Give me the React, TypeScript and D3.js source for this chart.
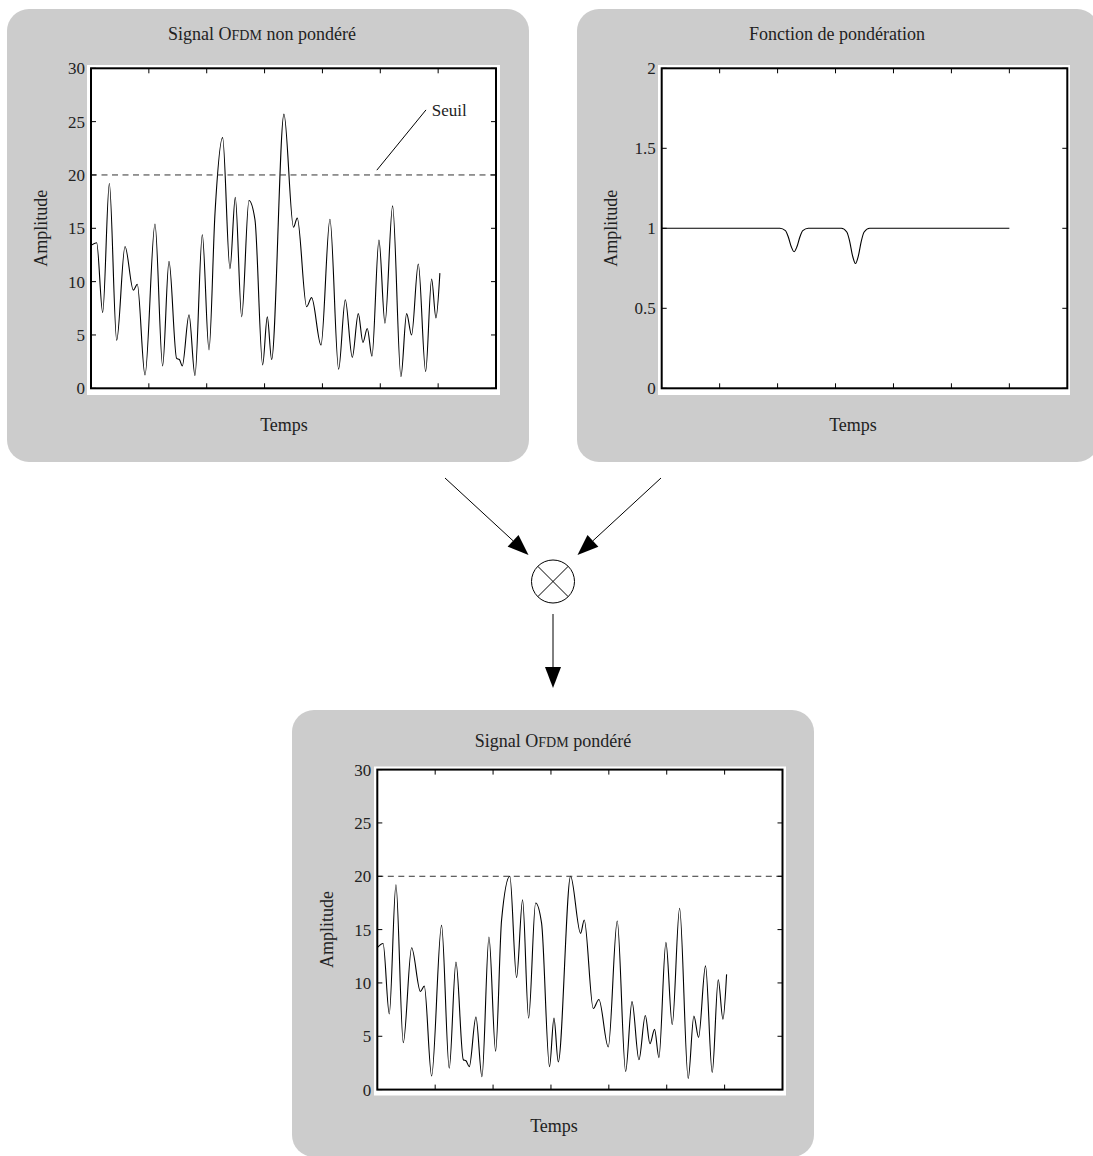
import React from 'react';
import * as d3 from 'd3';

// ---------- data ----------
const timeTicks = [1, 2, 3, 4, 5, 6];
const amplitudeTicks = [0, 5, 10, 15, 20, 25, 30];
const weightTicks = [0, 0.5, 1, 1.5, 2];
const threshold = 20;

// unweighted OFDM signal (time, amplitude)
const signalPoints: [number, number][] = [
  [0.0, 13.4], [0.098, 13.65], [0.202, 7.1], [0.317, 19.2], [0.444, 4.5],
  [0.588, 13.3], [0.732, 9.2], [0.8, 9.75], [0.933, 1.25], [1.106, 15.4],
  [1.238, 2.1], [1.348, 11.9], [1.48, 2.8], [1.527, 2.7], [1.578, 2.1],
  [1.694, 6.9], [1.797, 1.2], [1.924, 14.4], [2.039, 3.6], [2.143, 16.4],
  [2.275, 23.5], [2.402, 11.2], [2.494, 17.9], [2.604, 6.7], [2.73, 17.6],
  [2.834, 15.8], [2.967, 2.2], [3.047, 6.7], [3.122, 2.7], [3.335, 25.7],
  [3.5, 15.1], [3.565, 15.95], [3.727, 7.65], [3.813, 8.5], [3.975, 4.06],
  [4.13, 15.85], [4.28, 1.8], [4.395, 8.3], [4.516, 2.9], [4.62, 7.0],
  [4.7, 4.3], [4.775, 5.6], [4.856, 3.0], [4.977, 13.9], [5.081, 6.1],
  [5.213, 17.1], [5.357, 1.1], [5.455, 7.0], [5.541, 5.0], [5.657, 11.65],
  [5.784, 1.56], [5.887, 10.25], [5.962, 6.6], [6.03, 10.8],
];

// weighting function (time, weight)
const weightPoints: [number, number][] = [
  [0, 1], [2.04, 1], [2.135, 0.985], [2.185, 0.946], [2.235, 0.886],
  [2.285, 0.854], [2.335, 0.886], [2.385, 0.946], [2.435, 0.985], [2.53, 1],
  [3.1, 1], [3.194, 0.977], [3.244, 0.919], [3.294, 0.828], [3.344, 0.78],
  [3.394, 0.828], [3.444, 0.919], [3.494, 0.977], [3.59, 1], [6, 1],
];

// weighted OFDM signal (time, amplitude)
const weightedPoints: [number, number][] = [
  [0.0, 13.3], [0.1, 13.7], [0.207, 7.1], [0.322, 19.2], [0.449, 4.4],
  [0.593, 13.3], [0.745, 9.2], [0.812, 9.7], [0.938, 1.27], [1.11, 15.4],
  [1.243, 2.0], [1.359, 11.95], [1.486, 2.8], [1.532, 2.7], [1.589, 2.15],
  [1.704, 6.8], [1.808, 1.2], [1.929, 14.3], [2.044, 3.6], [2.147, 15.9],
  [2.29, 20.0], [2.406, 10.5], [2.51, 17.8], [2.614, 6.7], [2.735, 17.5],
  [2.838, 15.6], [2.975, 2.15], [3.052, 6.7], [3.126, 2.6], [3.339, 20.0],
  [3.512, 14.65], [3.575, 15.9], [3.731, 7.6], [3.828, 8.45], [3.99, 4.0],
  [4.145, 15.8], [4.29, 1.7], [4.4, 8.25], [4.52, 2.8], [4.63, 6.95],
  [4.71, 4.3], [4.79, 5.65], [4.865, 3.0], [4.986, 13.8], [5.095, 6.1],
  [5.222, 17.0], [5.371, 1.05], [5.469, 6.9], [5.55, 4.9], [5.67, 11.6],
  [5.786, 1.6], [5.89, 10.3], [5.971, 6.6], [6.034, 10.8],
];

const FONT = '"Liberation Serif", "Times New Roman", serif';
const PANEL_FILL = '#cccccc';

type Rect = { x: number; y: number; w: number; h: number };
type Frame = { x0: number; x1: number; y0: number; y1: number };

type PanelProps = {
  box: Rect;
  white: Rect;
  frame: Frame;
  titleParts: { t: string; sc?: boolean }[];
  titleX: number;
  titleY: number;
  yDomain: [number, number];
  yTicks: number[];
  data: [number, number][];
  showThreshold?: boolean;
  seuil?: boolean;
  ylabelX: number;
  xlabelX: number;
  xlabelY: number;
};

function Panel(p: PanelProps) {
  const { frame } = p;
  const x = d3.scaleLinear().domain([0, 7]).range([frame.x0, frame.x1]);
  const y = d3.scaleLinear().domain(p.yDomain).range([frame.y1, frame.y0]);
  const line = d3
    .line<[number, number]>()
    .x((d) => x(d[0]))
    .y((d) => y(d[1]))
    .curve(d3.curveMonotoneX);
  const tl = 5;
  const midY = (frame.y0 + frame.y1) / 2;
  return (
    <g>
      <rect x={p.box.x} y={p.box.y} width={p.box.w} height={p.box.h} rx={22} ry={22} fill={PANEL_FILL} />
      <rect x={p.white.x} y={p.white.y} width={p.white.w} height={p.white.h} fill="#ffffff" />
      <text x={p.titleX} y={p.titleY} textAnchor="middle" fontFamily={FONT} fontSize={18} fill="#222">
        {p.titleParts.map((s, i) => (
          <tspan key={i} fontSize={s.sc ? 14 : 18}>{s.t}</tspan>
        ))}
      </text>
      {/* data line */}
      <path d={line(p.data) || ''} fill="none" stroke="#000" strokeWidth={1.1} />
      {p.showThreshold && (
        <line x1={frame.x0} x2={frame.x1} y1={y(threshold)} y2={y(threshold)} stroke="#333" strokeWidth={1} strokeDasharray="6,4.5" />
      )}
      {p.seuil && (
        <g>
          <line x1={x(4.94)} y1={y(20.45)} x2={x(5.79)} y2={y(26.1)} stroke="#000" strokeWidth={1} />
          <text x={x(5.89)} y={y(25.55)} fontFamily={FONT} fontSize={17} fill="#222">Seuil</text>
        </g>
      )}
      {/* ticks */}
      {timeTicks.map((t) => (
        <g key={'xt' + t}>
          <line x1={x(t)} x2={x(t)} y1={frame.y1} y2={frame.y1 - tl} stroke="#000" strokeWidth={1} />
          <line x1={x(t)} x2={x(t)} y1={frame.y0} y2={frame.y0 + tl} stroke="#000" strokeWidth={1} />
        </g>
      ))}
      {p.yTicks.map((v) => (
        <g key={'yt' + v}>
          <line x1={frame.x0} x2={frame.x0 + tl} y1={y(v)} y2={y(v)} stroke="#000" strokeWidth={1} />
          <line x1={frame.x1} x2={frame.x1 - tl} y1={y(v)} y2={y(v)} stroke="#000" strokeWidth={1} />
          <text x={frame.x0 - 6} y={y(v)} dy="0.36em" textAnchor="end" fontFamily={FONT} fontSize={17} fill="#222">
            {String(v)}
          </text>
        </g>
      ))}
      {/* frame */}
      <rect x={frame.x0} y={frame.y0} width={frame.x1 - frame.x0} height={frame.y1 - frame.y0} fill="none" stroke="#000" strokeWidth={2} />
      {/* axis labels */}
      <text
        x={p.ylabelX}
        y={midY}
        transform={`rotate(-90, ${p.ylabelX}, ${midY})`}
        textAnchor="middle"
        fontFamily={FONT}
        fontSize={18}
        fill="#222"
      >
        Amplitude
      </text>
      <text x={p.xlabelX} y={p.xlabelY} textAnchor="middle" fontFamily={FONT} fontSize={18} fill="#222">
        Temps
      </text>
    </g>
  );
}

function Arrow({ x1, y1, x2, y2 }: { x1: number; y1: number; x2: number; y2: number }) {
  const dx = x2 - x1;
  const dy = y2 - y1;
  const len = Math.hypot(dx, dy);
  const ux = dx / len;
  const uy = dy / len;
  const hl = 21;
  const hw = 8;
  const bx = x2 - ux * hl;
  const by = y2 - uy * hl;
  const pts = [
    [x2, y2],
    [bx - uy * hw, by + ux * hw],
    [bx + uy * hw, by - ux * hw],
  ]
    .map((q) => q.join(','))
    .join(' ');
  return (
    <g>
      <line x1={x1} y1={y1} x2={bx} y2={by} stroke="#000" strokeWidth={1} />
      <polygon points={pts} fill="#000" />
    </g>
  );
}

export default function App() {
  const cx = 553;
  const cy = 581.5;
  const r = 21.5;
  const k = r * Math.SQRT1_2;
  return (
    <svg width={1093} height={1156} style={{ position: 'absolute', left: 0, top: 0, background: '#fff' }}>
      <Panel
        box={{ x: 7, y: 9, w: 522, h: 453 }}
        white={{ x: 87, y: 65, w: 413, h: 330 }}
        frame={{ x0: 91, x1: 496, y0: 68.3, y1: 388.3 }}
        titleParts={[{ t: 'Signal O' }, { t: 'FDM', sc: true }, { t: ' non pondéré' }]}
        titleX={262}
        titleY={40}
        yDomain={[0, 30]}
        yTicks={amplitudeTicks}
        data={signalPoints}
        showThreshold
        seuil
        ylabelX={47}
        xlabelX={284}
        xlabelY={431}
      />
      <Panel
        box={{ x: 577, y: 9, w: 522, h: 453 }}
        white={{ x: 658, y: 65, w: 412, h: 330 }}
        frame={{ x0: 661.7, x1: 1067.3, y0: 68.3, y1: 388.3 }}
        titleParts={[{ t: 'Fonction de pondération' }]}
        titleX={837}
        titleY={40}
        yDomain={[0, 2]}
        yTicks={weightTicks}
        data={weightPoints}
        ylabelX={617}
        xlabelX={853}
        xlabelY={431}
      />
      <Panel
        box={{ x: 292, y: 710, w: 522, h: 447 }}
        white={{ x: 374, y: 766.5, w: 412, h: 329 }}
        frame={{ x0: 377.3, x1: 782.5, y0: 769.6, y1: 1089.6 }}
        titleParts={[{ t: 'Signal O' }, { t: 'FDM', sc: true }, { t: ' pondéré' }]}
        titleX={553}
        titleY={747}
        yDomain={[0, 30]}
        yTicks={amplitudeTicks}
        data={weightedPoints}
        showThreshold
        ylabelX={333}
        xlabelX={554}
        xlabelY={1132}
      />
      <Arrow x1={445} y1={478} x2={528.5} y2={555} />
      <Arrow x1={661} y1={478} x2={577.5} y2={555} />
      <Arrow x1={553} y1={614} x2={553} y2={688} />
      <circle cx={cx} cy={cy} r={r} fill="none" stroke="#000" strokeWidth={1} />
      <line x1={cx - k} y1={cy - k} x2={cx + k} y2={cy + k} stroke="#000" strokeWidth={1} />
      <line x1={cx - k} y1={cy + k} x2={cx + k} y2={cy - k} stroke="#000" strokeWidth={1} />
    </svg>
  );
}
